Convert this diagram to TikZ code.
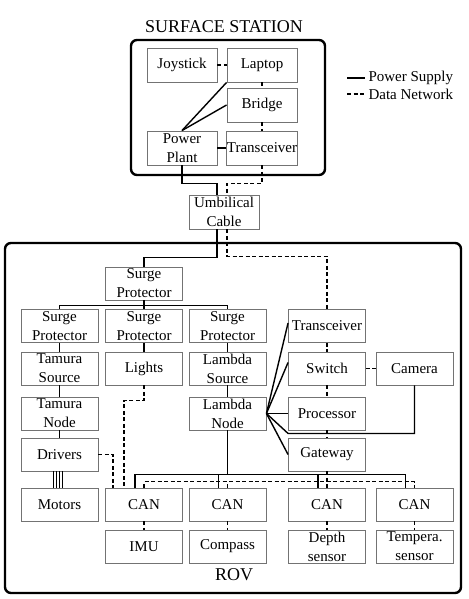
\documentclass[tikz,border=0pt]{standalone}
\usepackage{fontspec}
\setmainfont{Liberation Serif}

\begin{document}
\begin{tikzpicture}[
  x=1pt,y=-1pt,
  font=\fontsize{15}{19}\selectfont,
  box/.style={draw=black!55,line width=0.9pt,minimum width=77pt,minimum height=33pt,inner sep=0pt,align=center},
  sbox/.style={box,minimum width=70pt,minimum height=34pt},
  power/.style={line width=1.4pt},
  data/.style={line width=1.4pt,dash pattern=on 4pt off 2.5pt},
  frame/.style={line width=2.4pt,rounded corners=6pt}
]
  \useasboundingbox (0,0) rectangle (468,599);

  \node[font=\fontsize{18}{20}\selectfont] (surftitle) at (224,27) {SURFACE STATION};
  \draw[frame] (131,40) rectangle (325,175);
  \node[sbox] (joy) at (182,65) {Joystick};
  \node[sbox] (laptop) at (262,65) {Laptop};
  \node[sbox] (bridge) at (262,105) {Bridge};
  \node[sbox] (plant) at (182,148) {Power\\Plant};
  \node[sbox] (trans) at (262,148) {Transceiver};
  \node[sbox] (umb) at (224,212) {Umbilical\\Cable};

  \node[anchor=west] (lpow) at (365,78) {Power Supply};
  \node[anchor=west] (ldata) at (365,94) {Data Network};
  \draw[power] ([xshift=-18pt]lpow.west) -- (lpow.west);
  \draw[data] ([xshift=-18pt]ldata.west) -- (ldata.west);

  \draw[data] (joy) -- (laptop);
  \draw[data] (laptop) -- (bridge) -- (trans);
  \draw[power] (plant) -- (trans);
  \draw[power] (plant.north) -- (laptop.south west);
  \draw[power] (plant.north) -- (bridge.west);
  \draw[power] (plant.south) -- ++(0,18) -| ([xshift=-7pt]umb.north);
  \draw[data] (trans.south) -- ++(0,18) -| ([xshift=3pt]umb.north);

  \draw[frame] (5,243) rectangle (461,593);
  \node[font=\fontsize{18}{20}\selectfont] (rovtitle) at (234,575) {ROV};

  \node[box] (sp0) at (144,283.5) {Surge\\Protector};
  \node[box] (sp1) at (59.5,326) {Surge\\Protector};
  \node[box] (sp2) at (144,326) {Surge\\Protector};
  \node[box] (sp3) at (227.5,326) {Surge\\Protector};
  \node[box] (tsrc) at (59.5,368.5) {Tamura\\Source};
  \node[box] (lights) at (144,368.5) {Lights};
  \node[box] (lsrc) at (227.5,368.5) {Lambda\\Source};
  \node[box] (tnode) at (59.5,413.5) {Tamura\\Node};
  \node[box] (lnode) at (227.5,413.5) {Lambda\\Node};
  \node[box] (drivers) at (59.5,454.5) {Drivers};
  \node[box] (rtrans) at (327,326) {Transceiver};
  \node[box] (switch) at (327,368.5) {Switch};
  \node[box] (camera) at (414.5,368.5) {Camera};
  \node[box] (proc) at (327,413.5) {Processor};
  \node[box] (gateway) at (327,454.5) {Gateway};
  \node[box] (motors) at (59.5,504.5) {Motors};
  \node[box] (can1) at (144,504.5) {CAN};
  \node[box] (can2) at (227.5,504.5) {CAN};
  \node[box] (can3) at (327,504.5) {CAN};
  \node[box] (can4) at (414.5,504.5) {CAN};
  \node[box] (imu) at (144,546.5) {IMU};
  \node[box] (compass) at (227.5,546.5) {Compass};
  \node[box] (depth) at (327,546.5) {Depth\\sensor};
  \node[box] (temp) at (414.5,546.5) {Tempera.\\sensor};

  \draw[power] ([xshift=-7pt]umb.south) -- ++(0,28) -| (sp0.north);
  \draw[data] ([xshift=3pt]umb.south) -- ++(0,27) -| (rtrans.north);

  \draw[power] (sp0.south) -- ++(0,5) coordinate (spbus);
  \foreach \n in {sp1,sp2,sp3}
    \draw[power] (spbus) -| (\n.north);
  \draw[power] (sp1) -- (tsrc) -- (tnode) -- (drivers);
  \draw[power] (sp2) -- (lights);
  \draw[power] (sp3) -- (lsrc) -- (lnode);

  \draw[data] (rtrans) -- (switch) -- (proc) -- (gateway);
  \draw[data] (switch) -- (camera);

  \draw[power] (lnode.east) -- ([yshift=3pt]rtrans.west);
  \draw[power] (lnode.east) -- ([yshift=6pt]switch.west);
  \draw[power] (lnode.east) -- (proc.west);
  \draw[power] (lnode.east) -- (gateway.west);
  \draw[power] (lnode.east) -- ([yshift=-3pt]proc.south west) -| (camera.south);

  \draw[power] ([xshift=-9pt]can1.north) -- ++(0,-13) coordinate (pbus) -| ([xshift=-9pt]can4.north);
  \draw[power] (lnode.south) -- (lnode.south |- pbus);
  \foreach \n in {can2,can3}
    \draw[power] ([xshift=-9pt]\n.north) -- ++(0,-13);
  \draw[data] (can1.north) -- ++(0,-6) -| (can4.north);
  \draw[data] (can2.north) -- ++(0,-6);
  \draw[data] (gateway) -- (can3);

  \draw[data] (drivers) -| ([xshift=-31pt]can1.north);
  \draw[data] (lights.south) -- ++(0,15) -| ([xshift=-20pt]can1.north);
  \foreach \d in {-6,-3,0,3}
    \draw[line width=0.9pt] ([xshift=\d pt]drivers.south) -- ([xshift=\d pt]motors.north);

  \draw[data] (can1) -- (imu);
  \draw[data] (can2) -- (compass);
  \draw[data] (can3) -- (depth);
  \draw[data] (can4) -- (temp);
\end{tikzpicture}
\end{document}
